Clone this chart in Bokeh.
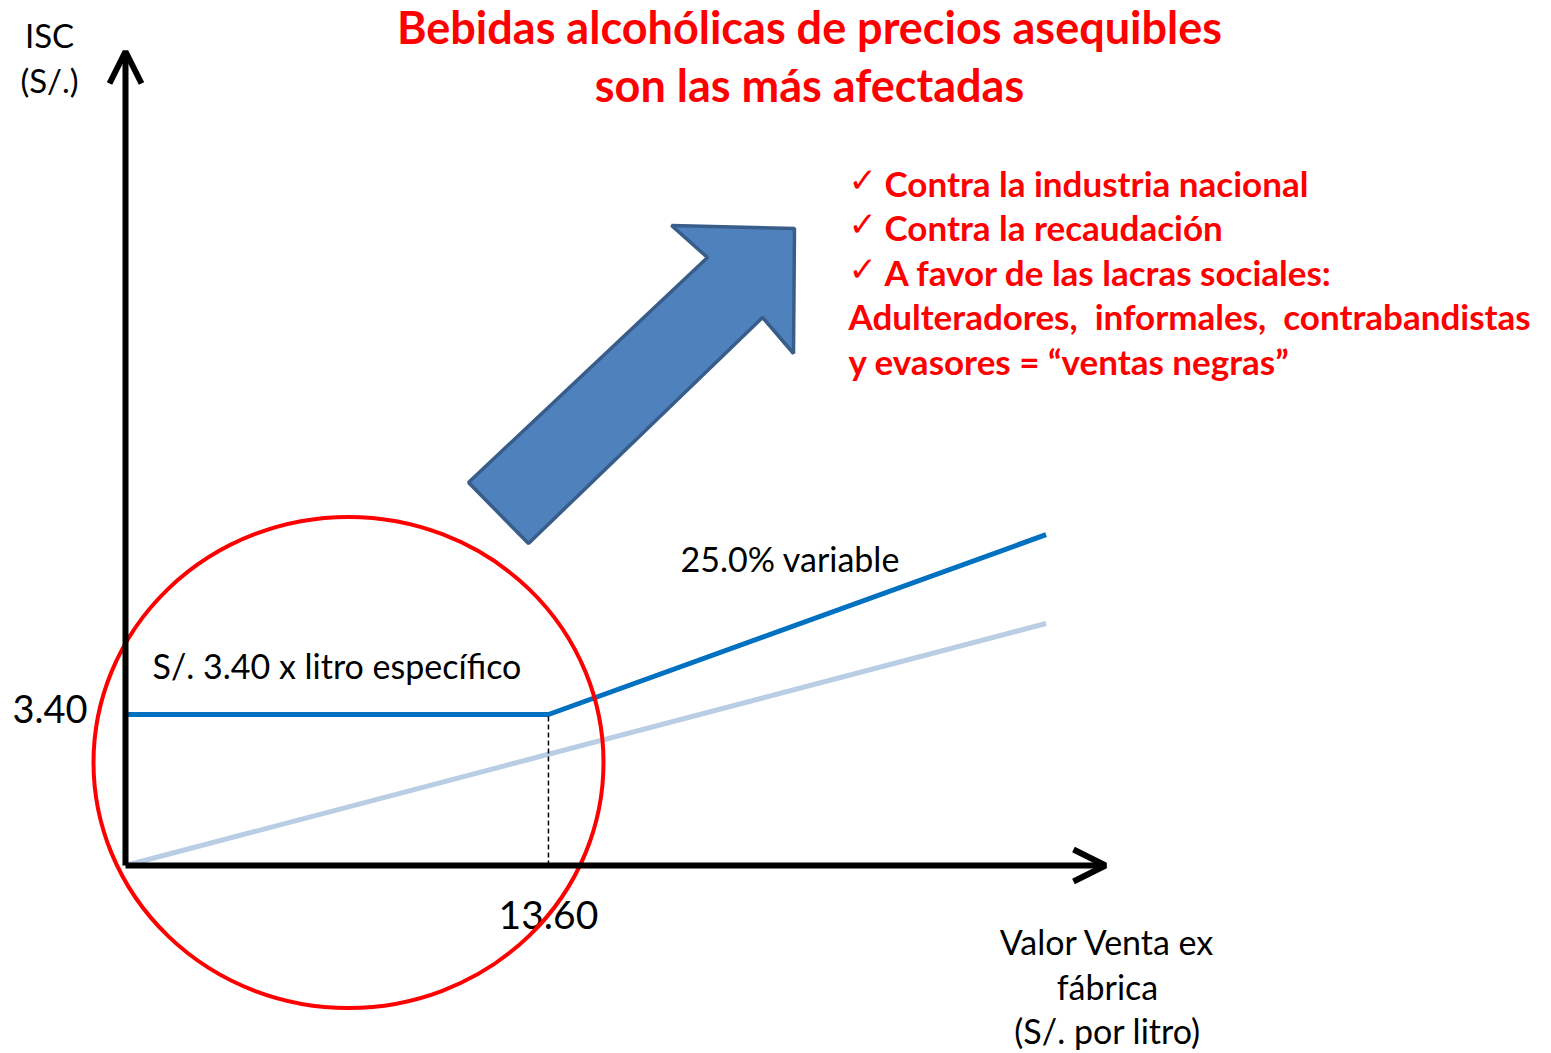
from bokeh.plotting import figure
from bokeh.models import Range1d, Arrow, OpenHead
from bokeh.core.properties import value
from bokeh.embed import file_html
from bokeh.resources import INLINE

# ---------------- data ----------------
isc_x = [0.0, 13.60, 29.6]          # valor venta ex fábrica (S/. por litro)
isc_y = [3.40, 3.40, 7.45]          # ISC (S/.)
light_x = [0.0, 29.6]
light_y = [0.0, 5.45]
threshold_x = [13.60]
specific_y = [3.40]
x_tick_labels = ["13.60"]
y_tick_labels = ["3.40"]
title_lines = ["Bebidas alcohólicas de precios asequibles", "son las más afectadas"]
check_items = ["Contra la industria nacional", "Contra la recaudación",
               "A favor de las lacras sociales:"]
extra_items = ["Adulteradores,\u00a0 informales,\u00a0 contrabandistas",
               "y evasores = \u201cventas negras\u201d"]
y_axis_label = ["ISC", "(S/.)"]
x_axis_label = ["Valor Venta ex", "fábrica", "(S/. por litro)"]
specific_label = "S/. 3.40 x litro específico"
variable_label = "25.0% variable"

# ---------------- layout ----------------
W, H = 1551, 1053
SX, SY = 31.10, 44.41      # px per unit
X0, Y0 = 125, 865          # px of the origin (from left / from top)
TY = 3                     # small upward text correction

def dx(px):
    return (px - X0) / SX

def dy(py):
    return (Y0 - py) / SY

def ty(py):
    return dy(py - TY)

p = figure(width=W, height=H, output_backend="svg", toolbar_location=None,
           x_range=Range1d(-X0 / SX, (W - X0) / SX),
           y_range=Range1d(-(H - Y0) / SY, Y0 / SY),
           x_axis_type=None, y_axis_type=None, min_border=0)
p.outline_line_color = None
p.background_fill_color = "white"
p.border_fill_color = "white"

FONT = value("Lato")

# lines
p.line(light_x, light_y, line_color="#B9CDE5", line_width=5)
p.line(isc_x, isc_y, line_color="#0070C0", line_width=5)
p.segment(x0=threshold_x, y0=[0], x1=threshold_x, y1=specific_y,
          line_color="black", line_width=1.5, line_dash="5 3")

# big blue arrow
arrow_px = [(468, 482), (528, 543), (762, 317), (793, 353), (794, 228), (671, 225), (707, 257)]
p.patch([dx(a) for a, b in arrow_px], [dy(b) for a, b in arrow_px],
        fill_color="#4F81BD", line_color="#385D8A", line_width=3.5)

# axes
p.add_layout(Arrow(end=OpenHead(size=32, line_width=6, line_color="black"),
                   x_start=0, y_start=0, x_end=0, y_end=dy(51),
                   line_width=6, line_color="black"))
p.add_layout(Arrow(end=OpenHead(size=32, line_width=6, line_color="black"),
                   x_start=0, y_start=0, x_end=dx(1105), y_end=0,
                   line_width=6, line_color="black"))

# tick labels
p.text(x=[dx(87)], y=[dy(711 - TY)], text=y_tick_labels, text_font=FONT,
       text_font_size="38px", text_align="right", text_baseline="middle", text_color="black")
p.text(x=threshold_x, y=[ty(917)], text=x_tick_labels, text_font=FONT,
       text_font_size="39px", text_align="center", text_baseline="middle", text_color="black")

# axis labels
p.text(x=[dx(49)] * 2, y=[ty(37), ty(82)], text=y_axis_label, text_font=FONT,
       text_font_size="33px", text_align="center", text_baseline="middle", text_color="black")
p.text(x=[dx(1107)] * 3, y=[ty(944), ty(989), ty(1033)], text=x_axis_label, text_font=FONT,
       text_font_size="34px", text_align="center", text_baseline="middle", text_color="black")

# annotations
p.text(x=[dx(152)], y=[ty(668)], text=[specific_label], text_font=FONT,
       text_font_size="34px", text_align="left", text_baseline="middle", text_color="black")
p.text(x=[dx(680)], y=[ty(561)], text=[variable_label], text_font=FONT,
       text_font_size="34px", text_align="left", text_baseline="middle", text_color="black")

# title
p.text(x=[dx(809)] * 2, y=[ty(29), ty(87)], text=title_lines, text_font=FONT,
       text_font_style="bold", text_font_size="45px", text_align="center",
       text_baseline="middle", text_color="#FF0000")

# bullet list
ys = [185, 229, 274]
p.text(x=[dx(848)] * 3, y=[ty(v - 3) for v in ys], text=["\u2713"] * 3,
       text_font=value("DejaVu Sans"), text_font_size="34px", text_align="left",
       text_baseline="middle", text_color="#FF0000")
p.text(x=[dx(884)] * 3, y=[ty(v) for v in ys], text=check_items, text_font=FONT,
       text_font_style="bold", text_font_size="35px", text_align="left",
       text_baseline="middle", text_color="#FF0000")
p.text(x=[dx(848)] * 2, y=[ty(318), ty(363)], text=extra_items, text_font=FONT,
       text_font_style="bold", text_font_size="35px", text_align="left",
       text_baseline="middle", text_color="#FF0000")

# red circle
p.ellipse(x=[dx(348)], y=[dy(762)], width=[510], height=[491],
          width_units="screen", height_units="screen",
          fill_color=None, line_color="#FF0000", line_width=4)

open("out.html", "w").write(file_html(p, INLINE))
